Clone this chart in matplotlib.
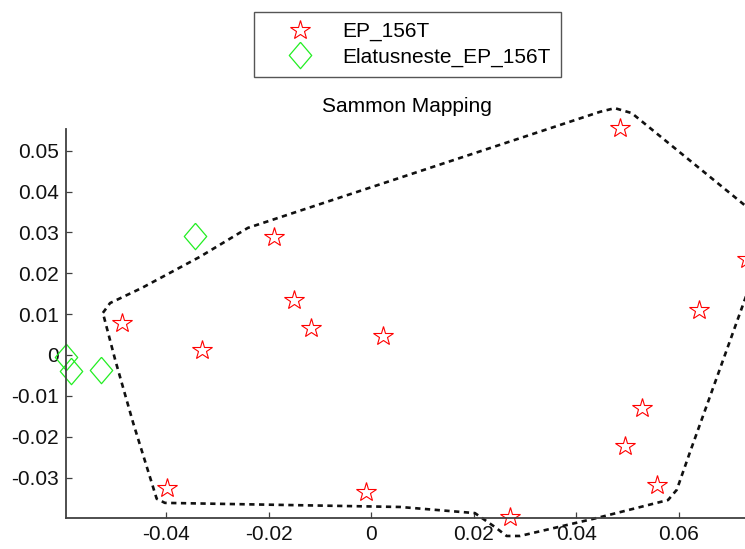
import numpy as np
import matplotlib.pyplot as plt

plt.rcParams['font.family'] = ['Liberation Sans', 'DejaVu Sans']

# Sammon projection coordinates
ep_x = [0.0485, 0.0733, 0.0639, -0.0190, -0.0151, -0.0118, 0.0022, -0.0487,
        -0.0331, 0.0528, 0.0495, 0.0557, -0.0399, -0.0011, 0.0271]
ep_y = [0.0555, 0.0235, 0.0110, 0.0289, 0.0135, 0.0066, 0.0046, 0.0078,
        0.0012, -0.0130, -0.0223, -0.0318, -0.0325, -0.0335, -0.0396]

el_x = [-0.0344, -0.0596, -0.0586, -0.0528]
el_y = [0.0291, -0.0005, -0.0039, -0.0037]

# hand drawn outline around the EP_156T group
hull_x = [-0.0524, -0.0510, -0.0448, -0.0335, -0.0241, 0.0446, 0.0475, 0.0508,
          0.0780, 0.0622, 0.0596, 0.0579, 0.0440, 0.0290, 0.0264, 0.0241,
          0.0202, 0.0056, -0.0403, -0.0419, -0.0465, -0.0500, -0.0524]
hull_y = [0.0103, 0.0127, 0.0164, 0.0240, 0.0311, 0.0595, 0.0604, 0.0592,
          0.0314, -0.0237, -0.0330, -0.0355, -0.0399, -0.0443, -0.0443, -0.0421,
          -0.0387, -0.0372, -0.0362, -0.0352, -0.0166, -0.0012, 0.0103]

xticks = [-0.04, -0.02, 0, 0.02, 0.04, 0.06]
xlabels = ['-0.04', '-0.02', '0', '0.02', '0.04', '0.06']
yticks = [0.05, 0.04, 0.03, 0.02, 0.01, 0, -0.01, -0.02, -0.03]
ylabels = ['0.05', '0.04', '0.03', '0.02', '0.01', '0', '-0.01', '-0.02', '-0.03']

diamond = [(0, 1), (0.85, 0), (0, -1), (-0.85, 0), (0, 1)]

fig = plt.figure(figsize=(7.45, 5.49), dpi=100)
ax = fig.add_axes([66 / 745, 31 / 549, 682 / 745, 389 / 549])

ax.plot(ep_x, ep_y, linestyle='none', marker='*', markersize=15,
        mfc='none', mec='red', mew=0.8, label='EP_156T', clip_on=False)
ax.plot(el_x, el_y, linestyle='none', marker=diamond, markersize=19,
        mfc='none', mec='#22ee22', mew=0.9, label='Elatusneste_EP_156T',
        clip_on=False)
ax.plot(hull_x, hull_y, color='#111111', lw=1.9, linestyle=(0, (2.0, 1.7)),
        clip_on=False)

ax.set_xlim(-0.0596, 0.0735)
ax.set_ylim(-0.0399, 0.0553)
ax.set_xticks(xticks)
ax.set_xticklabels(xlabels)
ax.set_yticks(yticks)
ax.set_yticklabels(ylabels)

for side in ['top', 'right']:
    ax.spines[side].set_visible(False)
for side in ['left', 'bottom']:
    ax.spines[side].set_color('#404040')
    ax.spines[side].set_linewidth(1.3)

ax.tick_params(direction='in', length=4, width=0.9, color='#404040',
               labelsize=15, labelcolor='#111111', pad=5)

ax.set_title('Sammon Mapping', fontsize=15, pad=12)

leg = ax.legend(loc='center', bbox_to_anchor=(407.5 / 745, 1 - 44.5 / 549),
                bbox_transform=fig.transFigure, fontsize=15, fancybox=False,
                edgecolor='#555555', framealpha=1, handlelength=3.4,
                handletextpad=0.35, borderpad=0.5, labelspacing=0.3)
leg.get_frame().set_linewidth(1.0)

plt.savefig('out.png', dpi=100)
